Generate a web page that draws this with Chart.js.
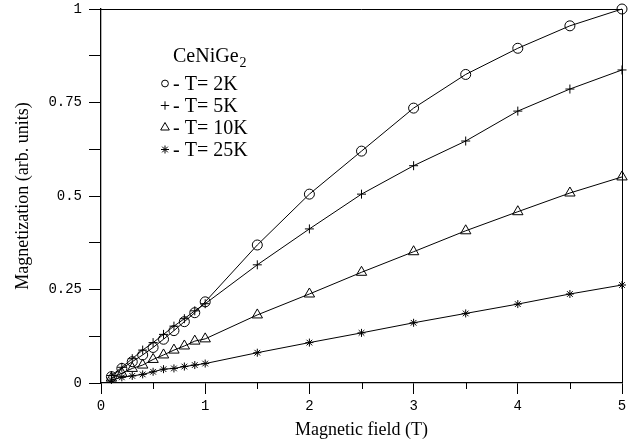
<!DOCTYPE html>
<html>
<head>
<meta charset="utf-8">
<script src="https://cdn.jsdelivr.net/npm/chart.js@4/dist/chart.umd.min.js"></script>
<style>
html,body{margin:0;padding:0;background:#fff;}
#wrap{width:629px;height:444px;position:relative;}
</style>
</head>
<body>
<div id="wrap"><canvas id="c"></canvas></div>
<script>
const fields = [0.1,0.2,0.3,0.4,0.5,0.6,0.7,0.8,0.9,1.0,1.5,2.0,2.5,3.0,3.5,4.0,4.5,5.0];
const m2K  = [0.017,0.039,0.057,0.075,0.095,0.117,0.140,0.164,0.188,0.217,0.369,0.505,0.620,0.735,0.825,0.895,0.955,1.000];
const m5K  = [0.020,0.042,0.065,0.088,0.108,0.130,0.152,0.172,0.193,0.212,0.316,0.412,0.505,0.581,0.647,0.727,0.786,0.837];
const m10K = [0.013,0.026,0.039,0.048,0.063,0.075,0.088,0.099,0.112,0.118,0.182,0.238,0.296,0.351,0.407,0.458,0.508,0.551];
const m25K = [0.008,0.015,0.019,0.023,0.030,0.037,0.039,0.044,0.048,0.052,0.081,0.108,0.134,0.161,0.186,0.211,0.238,0.262];
const seriesLabels = ['- T= 2K','- T= 5K','- T= 10K','- T= 25K'];
const legendTitle = 'CeNiGe';
const legendTitleSub = '2';
const xTitle = 'Magnetic field (T)';
const yTitle = 'Magnetization (arb. units)';
const xMajorTicks = [0,1,2,3,4,5];
const yMajorTicks = [0,0.25,0.5,0.75,1];

const styles = [
  {pointStyle:'circle', radius:5, legendRadius:3.4},
  {pointStyle:'cross', radius:4.5, legendRadius:4.2},
  {pointStyle:'triangle', radius:6, legendRadius:5},
  {pointStyle:'star', radius:4, legendRadius:4}
];
const allSeries = [m2K,m5K,m10K,m25K];

const datasets = allSeries.map((s,i)=>({
  label: seriesLabels[i],
  data: fields.map((x,j)=>({x:x,y:s[j]})),
  borderColor:'#000',
  borderWidth:1,
  backgroundColor:'rgba(0,0,0,0)',
  pointBackgroundColor:'rgba(0,0,0,0)',
  pointBorderColor:'#000',
  pointBorderWidth:1,
  pointStyle: styles[i].pointStyle,
  pointRadius: styles[i].radius,
  tension:0,
  clip:false
}));

const serif = '"Liberation Serif", "Times New Roman", serif';
const mono = '"Liberation Mono", "Courier New", monospace';

const framePlugin = {
  id:'frame',
  afterDraw(chart){
    const {ctx, chartArea:a, scales} = chart;
    ctx.save();
    ctx.strokeStyle='#000';
    ctx.lineWidth=1;
    ctx.beginPath();
    ctx.moveTo(a.left, a.top+0.5); ctx.lineTo(a.right+0.5, a.top+0.5); ctx.lineTo(a.right+0.5, a.bottom);
    ctx.stroke();
    const xs = scales.x;
    ctx.beginPath();
    for(let v=0.5; v<5; v+=1){
      const px = Math.round(xs.getPixelForValue(v))+0.5;
      ctx.moveTo(px, a.bottom); ctx.lineTo(px, a.bottom+6);
    }
    ctx.stroke();
    // legend
    const lx = 165, tx = 173;
    ctx.fillStyle='#000';
    ctx.textBaseline='alphabetic';
    ctx.textAlign='left';
    ctx.font = '20px '+serif;
    ctx.fillText(legendTitle, tx, 62);
    const w = ctx.measureText(legendTitle).width;
    ctx.font = '14px '+serif;
    ctx.fillText(legendTitleSub, tx+w+1, 67);
    chart.data.datasets.forEach((ds,i)=>{
      const cy = 83.5 + i*22;
      ctx.fillStyle='rgba(0,0,0,0)';
      ctx.strokeStyle='#000';
      ctx.lineWidth=1;
      Chart.helpers.drawPoint(ctx, {pointStyle:ds.pointStyle, radius:styles[i].legendRadius, rotation:0, borderWidth:1}, lx, cy);
      ctx.fillStyle='#000';
      ctx.font = '20px '+serif;
      ctx.textBaseline='middle';
      ctx.fillText(ds.label, tx, cy+1);
    });
    ctx.restore();
  }
};

new Chart(document.getElementById('c'), {
  type:'line',
  data:{datasets},
  options:{
    responsive:true,
    maintainAspectRatio:false,
    animation:false,
    layout:{padding:{top:9,right:7,left:0,bottom:0}},
    plugins:{legend:{display:false}, tooltip:{enabled:false}},
    scales:{
      x:{
        type:'linear', min:0, max:5,
        afterFit(s){ s.height = 61; s.paddingLeft = 0; s.paddingRight = 0; },
        afterBuildTicks(s){ s.ticks = xMajorTicks.map(v=>({value:v})); },
        grid:{display:true, drawOnChartArea:false, tickLength:11, color:'#000', lineWidth:1},
        border:{display:true, color:'#000', width:1.3},
        ticks:{color:'#000', font:{family:mono, size:14}, padding:4, maxRotation:0,
          callback:(v)=>String(v)},
        title:{display:true, text:xTitle, color:'#000', font:{family:serif, size:18}, padding:{top:0,bottom:3}}
      },
      y:{
        type:'linear', min:0, max:1,
        afterFit(s){ s.width = 101; s.paddingTop = 0; s.paddingBottom = 0; },
        afterBuildTicks(s){ const t=[]; for(let k=0;k<=8;k++) t.push({value:k*0.125}); s.ticks=t; },
        grid:{display:true, drawOnChartArea:false, tickLength:12, color:'#000', lineWidth:1},
        border:{display:true, color:'#000', width:1.3},
        ticks:{color:'#000', font:{family:mono, size:14}, padding:7,
          callback:(v)=> (Math.abs(v*4-Math.round(v*4))<1e-9) ? String(v) : ''},
        title:{display:true, text:yTitle, color:'#000', font:{family:serif, size:18}, padding:{top:12,bottom:0}}
      }
    }
  },
  plugins:[framePlugin]
});
</script>
</body>
</html>
